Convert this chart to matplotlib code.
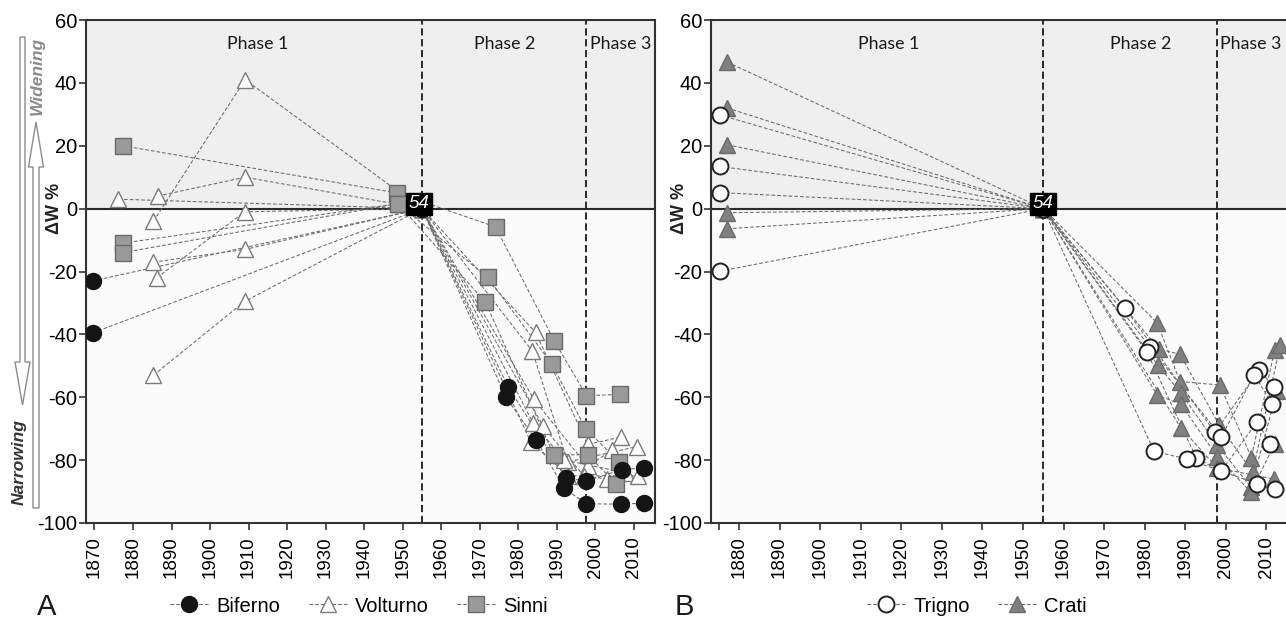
import matplotlib
matplotlib.use("Agg")
import matplotlib.pyplot as plt
from matplotlib.patches import Polygon
from matplotlib.lines import Line2D

# ---------------- data ----------------
ref_year = 1955          # reference survey ("54")
ref_value = 0
phase_bounds = [1955, 1997.7]

# Panel A
biferno_years = [
    [1869.5, 1955, 1977.4, 1992.5, 1997.7, 2006.9, 2012.6],
    [1869.6, 1955, 1976.8, 1984.6, 1991.9, 1997.7, 2006.6, 2012.6],
]
biferno_vals = [
    [-23, 0, -56.8, -85.7, -86.7, -83, -82.5],
    [-39.5, 0, -60, -73.5, -88.9, -93.9, -94, -93.7],
]
volturno_years = [
    [1876.2, 1955, 1984.5, 1998.0, 2006.6],
    [1886.4, 1909.1, 1955, 1983.7, 1992.8, 2010.8],
    [1885.3, 1909.1, 1955, 1984.1, 1998.0, 2004.4],
    [1886.2, 1909.0, 1955, 1983.9, 1992.0, 2008.0],
    [1885.3, 1909.0, 1955, 1986.5, 1997.0, 2003.0],
    [1885.3, 1909.0, 1955, 1983.3, 1993.0, 2011.0],
]
volturno_vals = [
    [3, 0, -39.4, -75, -72.7],
    [4, 10, 0, -45.4, -80.6, -75.7],
    [-4, 41, 0, -60.7, -82, -76.8],
    [-22, -1, 0, -68.3, -80, -84],
    [-17, -13, 0, -69.3, -85, -86],
    [-53, -29.5, 0, -74.3, -85, -85],
]
sinni_years = [
    [1877.3, 1948.5, 1974.1, 1989.4, 1997.7, 2006.3],
    [1877.3, 1948.8, 1972.1, 1988.7, 1997.5, 2006.2],
    [1877.3, 1948.8, 1971.5, 1989.2, 1998.1, 2005.5],
]
sinni_vals = [
    [20, 5, -5.8, -42.2, -59.5, -59.1],
    [-11, 1.6, -21.9, -49.4, -70, -80.6],
    [-14, 1.6, -29.8, -78.3, -78.3, -87.7],
]

# Panel B
trigno_years = [
    [1875.3, 1955, 1975.1, 1997.3, 2008.2, 2011.8],
    [1875.3, 1955, 1981.2, 1998.9, 2007.0, 2011.4],
    [1875.3, 1955, 1980.6, 1992.7, 1998.8, 2007.7, 2011.0],
    [1875.3, 1955, 1982.3, 1990.3, 2007.7, 2012.0],
]
trigno_vals = [
    [29.8, 0, -31.6, -71.2, -51.3, -56.6],
    [13.4, 0, -43.9, -72.6, -52.9, -62],
    [5.1, 0, -45.7, -79.3, -83.6, -67.8, -74.8],
    [-19.9, 0, -77.2, -79.6, -87.5, -89.1],
]
crati_years = [
    [1877.1, 1955, 1983.1, 1988.7, 1998.5, 2006.3, 2012.0],
    [1877.1, 1955, 1983.5, 1988.7, 1998.4, 2006.6, 2013.4],
    [1877.1, 1955, 1983.3, 1989.0, 1997.9, 2006.2, 2012.6],
    [1877.1, 1955, 1983.1, 1989.0, 1997.9, 2006.2, 2012.0],
    [1877.1, 1955, 1988.9, 1997.9, 2011.8],
]
crati_vals = [
    [46.6, 0, -36.4, -55, -56.1, -79.2, -45],
    [32, 0, -44.7, -46.3, -68.9, -83.8, -43.4],
    [20.3, 0, -49.9, -58.8, -75.3, -88.6, -58],
    [-1.3, 0, -59.3, -62.3, -79, -90.2, -74.8],
    [-6.4, 0, -69.7, -82.5, -86],
]

yticks = [60, 40, 20, 0, -20, -40, -60, -80, -100]
xticks_a = list(range(1870, 2011, 10))
xticks_b = list(range(1880, 2011, 10))
phase_labels = ["Phase 1", "Phase 2", "Phase 3"]

# ---------------- style ----------------
plt.rcParams['font.family'] = ['Liberation Sans', 'DejaVu Sans']
W, H = 1286, 619
fig = plt.figure(figsize=(W / 100, H / 100), dpi=100)

styles = {
    'Biferno':  dict(marker='o', ms=11.5, mfc='#151515', mec='#151515', mew=1.0),
    'Volturno': dict(marker='^', ms=12, mfc='white', mec='#7a7a7a', mew=1.0),
    'Sinni':    dict(marker='s', ms=11, mfc='#9a9a9a', mec='#6a6a6a', mew=1.0),
    'Trigno':   dict(marker='o', ms=11.5, mfc='white', mec='#222222', mew=1.4),
    'Crati':    dict(marker='^', ms=12, mfc='#808080', mec='#6a6a6a', mew=1.0),
}
line_kw = dict(color='#6a6a6a', lw=0.75, dashes=(3.5, 2.0))


def px_axes(x0, x1, y0, y1):
    return fig.add_axes([x0 / W, 1 - y1 / H, (x1 - x0) / W, (y1 - y0) / H])


# overlay for decorations (arrows)
ov = fig.add_axes([0, 0, 1, 1])
ov.set_xlim(0, W)
ov.set_ylim(H, 0)
ov.axis('off')

axA = px_axes(86, 655, 20, 523)
axB = px_axes(711, 1292, 20, 523)


def setup(ax, xlim, xticks, extra_ticks=()):
    ax.set_xlim(*xlim)
    ax.set_ylim(-100, 60)
    ax.axhspan(0, 60, color='#efefef', zorder=0)
    ax.axhspan(-100, 0, color='#fbfbfb', zorder=0)
    ax.axhline(ref_value, color='#2b2b2b', lw=1.5, zorder=1)
    for xb in phase_bounds:
        ax.axvline(xb, color='#1a1a1a', lw=1.3, dashes=(4, 2), zorder=1)
    ticks = sorted(list(xticks) + list(extra_ticks))
    ax.set_xticks(ticks)
    ax.set_xticklabels([str(t) if t in xticks else '' for t in ticks],
                       rotation=90, fontsize=13.5)
    ax.set_yticks(yticks)
    ax.set_yticklabels([str(v) for v in yticks], fontsize=14.5)
    ax.tick_params(direction='out', length=5, width=1.2, color='#333333')
    ax.tick_params(axis='x', pad=4.5)
    ax.tick_params(axis='y', pad=1.5)
    for s in ax.spines.values():
        s.set_color('#333333')
        s.set_linewidth(1.5)


setup(axA, (1867.8, 2015.5), xticks_a)
setup(axB, (1873.1, 2016.3), xticks_b, extra_ticks=(1875,))


def draw(ax, name, years, vals):
    for xs, ys in zip(years, vals):
        ax.plot(xs, ys, linestyle='none', zorder=4, **styles[name])
        ax.plot(xs, ys, zorder=3, **line_kw)


draw(axA, 'Volturno', volturno_years, volturno_vals)
draw(axA, 'Sinni', sinni_years, sinni_vals)
draw(axA, 'Biferno', biferno_years, biferno_vals)
draw(axB, 'Crati', crati_years, crati_vals)
draw(axB, 'Trigno', trigno_years, trigno_vals)

for ax, x54 in ((axA, 1954.2), (axB, ref_year)):
    ax.text(x54, ref_value + 1.5, "54", color='white', fontsize=13.5,
            style='italic', ha='center', va='center', zorder=10,
            bbox=dict(boxstyle='square,pad=0.14', fc='black', ec='black'))

# phase labels
for ax, pos in ((axA, [(1912.4, 'center'), (1976.4, 'center'), (1998.6, 'left')]),
                (axB, [(1917.0, 'center'), (1979.0, 'center'), (1998.6, 'left')])):
    for lab, (xp, ha) in zip(phase_labels, pos):
        ax.text(xp, 52.5, lab, ha=ha, va='center', fontsize=12.8,
                family=['Lato', 'DejaVu Sans'], color='#1a1a1a', zorder=6)

# y labels
for xpx in (55, 680):
    fig.text(xpx / W, 1 - 208 / H, "ΔW %", rotation=90, ha='center',
             va='center', fontsize=13, fontweight='bold', color='#222222')


def hollow_arrow(cx, y_tail, y_base, y_tip, hw, hh):
    pts = [(cx - hw, y_tail), (cx - hw, y_base), (cx - hh, y_base),
           (cx, y_tip), (cx + hh, y_base), (cx + hw, y_base), (cx + hw, y_tail)]
    ov.add_patch(Polygon(pts, closed=True, fc='white', ec='#8c8c8c', lw=1.0))


hollow_arrow(36, 508, 167, 122, 3, 7.5)     # up (widening)
hollow_arrow(22.5, 37, 362, 405, 2.5, 7.5)  # down (narrowing)
ov.text(37, 76, "Widening", rotation=90, ha='center', va='center',
        fontsize=12.5, fontweight='bold', style='italic', color='#8a8a8a')
ov.text(19, 462, "Narrowing", rotation=90, ha='center', va='center',
        fontsize=12.5, fontweight='bold', style='italic', color='#333333')

# panel letters
fig.text(47 / W, 1 - 607 / H, "A", fontsize=21, ha='center', va='center',
         color='#1a1a1a')
fig.text(684 / W, 1 - 607 / H, "B", fontsize=21, ha='center', va='center',
         color='#1a1a1a')


def handle(name):
    return Line2D([], [], color='#6a6a6a', lw=0.75, dashes=(3.5, 2.0),
                  **styles[name])


fig.legend([handle(n) for n in ('Biferno', 'Volturno', 'Sinni')],
           ['Biferno', 'Volturno', 'Sinni'], loc='center',
           bbox_to_anchor=(359 / W, 1 - 606 / H), ncol=3,
           frameon=False, fontsize=14.5, handlelength=1.9,
           handletextpad=0.4, columnspacing=1.4, borderpad=0,
           borderaxespad=0)
fig.legend([handle(n) for n in ('Trigno', 'Crati')],
           ['Trigno', 'Crati'], loc='center',
           bbox_to_anchor=(977 / W, 1 - 606 / H), ncol=2,
           frameon=False, fontsize=14.5, handlelength=1.9,
           handletextpad=0.4, columnspacing=1.4, borderpad=0,
           borderaxespad=0)

fig.savefig("out.png", dpi=100)
